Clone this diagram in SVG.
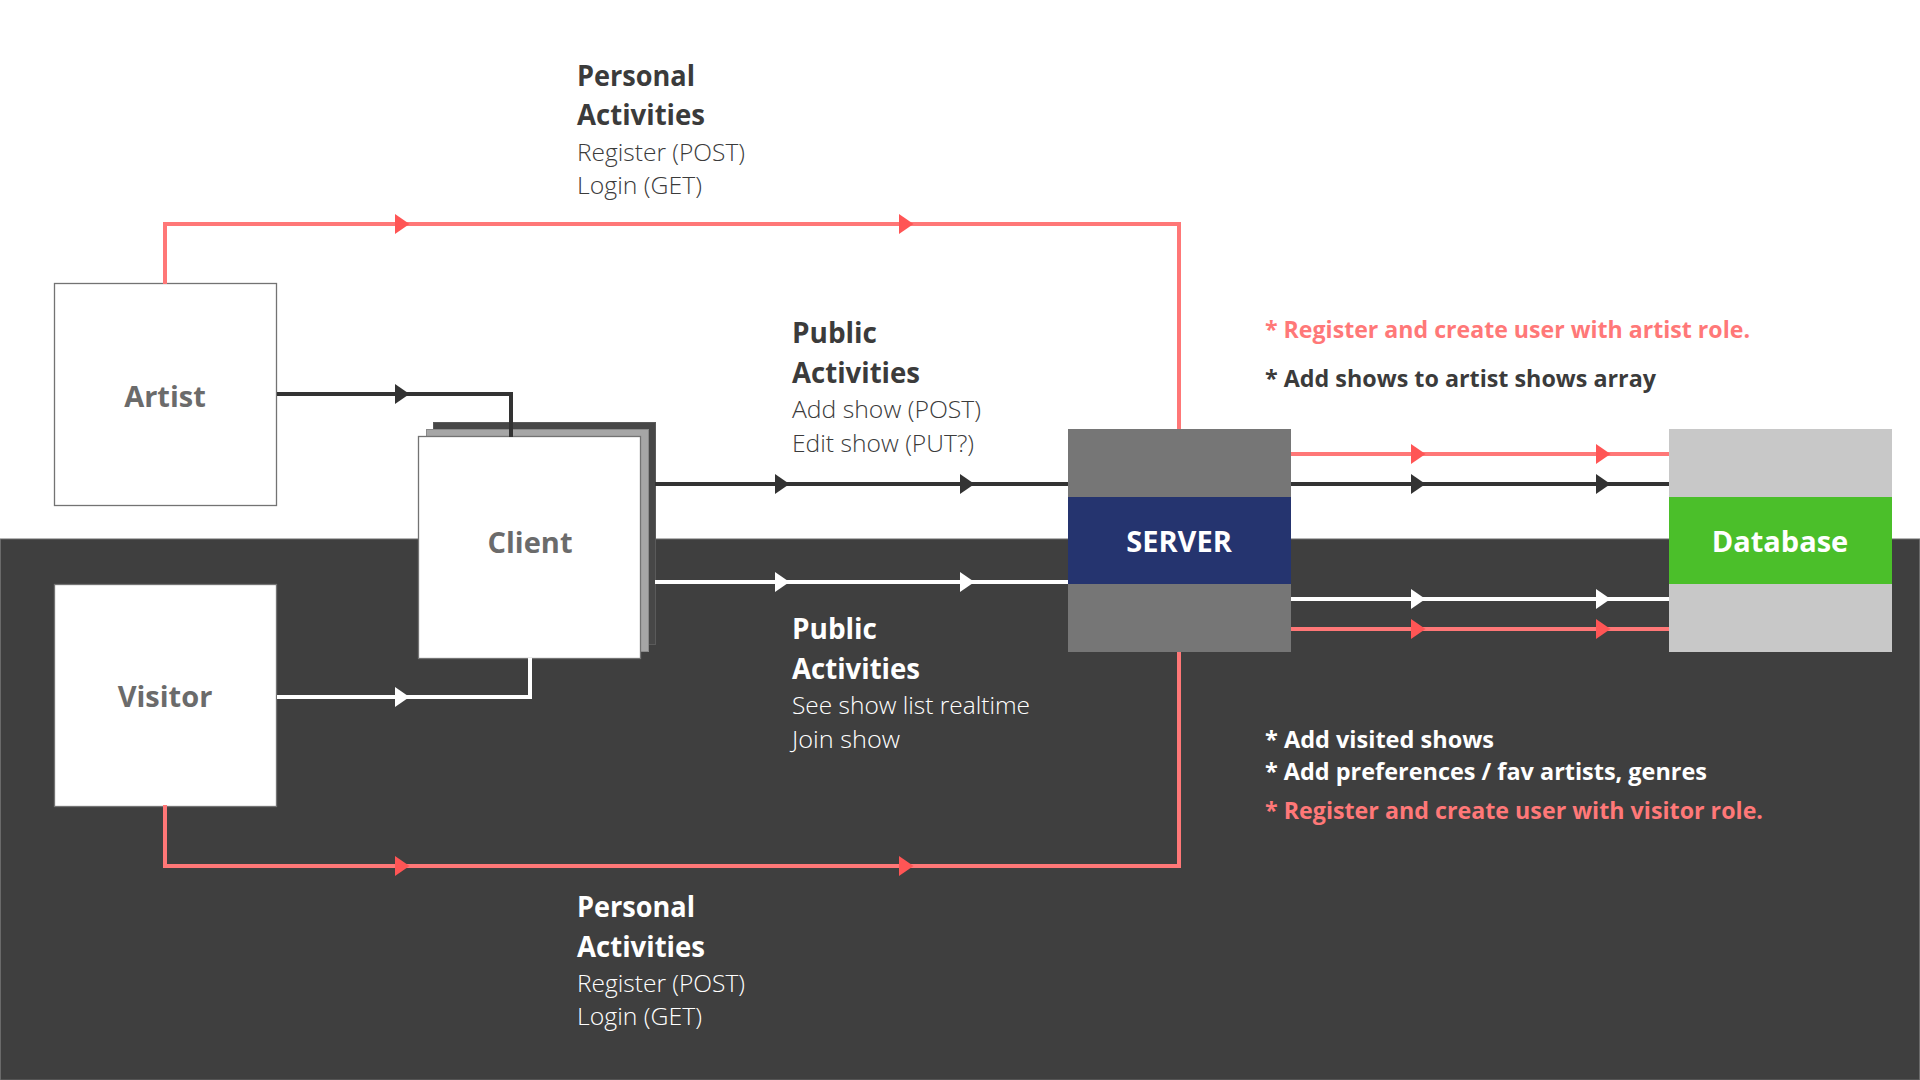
<svg xmlns="http://www.w3.org/2000/svg" width="1920" height="1080" viewBox="0 0 1920 1080">
  <defs>
    <style>
      .box { fill: #ffffff; stroke: #737373; stroke-width: 1.3; }
      .node-label { font-family: "Open Sans", "Liberation Sans", sans-serif; font-weight: 700; font-size: 29px; text-anchor: middle; }
      .grey-label { fill: #6b6b6b; }
      .white-label { fill: #ffffff; }
      .head { font-family: "Open Sans", "Liberation Sans", sans-serif; font-weight: 700; font-size: 28px; }
      .sub { font-family: "Open Sans", "Liberation Sans", sans-serif; font-weight: 300; font-size: 24px; }
      .note { font-family: "Open Sans", "Liberation Sans", sans-serif; font-weight: 700; font-size: 23px; }
      .ink-dark { fill: #3b3b3b; }
      .ink-white { fill: #ffffff; }
      .ink-red { fill: #ff7878; }
      .wire { fill: none; stroke-width: 4; stroke-linejoin: miter; }
      .wire-red { stroke: #ff7777; }
      .wire-dark { stroke: #333333; }
      .wire-white { stroke: #ffffff; }
      .head-red { fill: #ff5555; }
      .head-dark { fill: #333333; }
      .head-white { fill: #ffffff; }
    </style>
    <path id="arrow" d="M-7,-10 L7.5,0 L-7,10 Z"/>
  </defs>

  <!-- page background: light upper band, dark lower band -->
  <rect x="0" y="0" width="1920" height="1080" fill="#ffffff"/>
  <rect x="0.5" y="539" width="1919" height="541" fill="#3f3f3f" stroke="#6a6a6a" stroke-width="1"/>

  <!-- actors -->
  <g id="artist">
    <rect class="box" x="54.5" y="283.5" width="222" height="222"/>
    <text class="node-label grey-label" x="165" y="407">Artist</text>
  </g>

  <g id="visitor">
    <rect class="box" x="54.5" y="584.5" width="222" height="222"/>
    <text class="node-label grey-label" x="165" y="707">Visitor</text>
  </g>

  <!-- client drawn as a small stack of pages -->
  <g id="client">
    <rect x="433.5" y="422.5" width="222" height="222" fill="#474747" stroke="#5a5a5a" stroke-width="1"/>
    <rect x="426.5" y="429.5" width="222" height="222" fill="#a6a6a6" stroke="#8a8a8a" stroke-width="1"/>
    <rect class="box" x="418.5" y="436.5" width="222" height="222"/>
    <text class="node-label grey-label" x="530" y="553">Client</text>
  </g>

  <g id="server">
    <rect x="1068" y="429" width="223" height="223" fill="#767676"/>
    <rect x="1068" y="497" width="223" height="87" fill="#25346f"/>
    <text class="node-label white-label" x="1179" y="552">SERVER</text>
  </g>

  <g id="database">
    <rect x="1669" y="429" width="223" height="223" fill="#c8c8c8"/>
    <rect x="1669" y="497" width="223" height="87" fill="#4bbf2a"/>
    <text class="node-label white-label" x="1780" y="552">Database</text>
  </g>

  <!-- connectors -->
  <g id="connectors">
    <path class="wire wire-red" d="M165,284 V224 H1179 V429"/>
    <path class="wire wire-dark" d="M277,394 H511 V437"/>
    <path class="wire wire-white" d="M277,697 H530 V658"/>
    <path class="wire wire-dark" d="M655,484 H1068"/>
    <path class="wire wire-white" d="M655,582 H1068"/>
    <path class="wire wire-red" d="M165,805 V866 H1179 V652"/>
    <path class="wire wire-red" d="M1291,454 H1669"/>
    <path class="wire wire-dark" d="M1291,484 H1669"/>
    <path class="wire wire-white" d="M1291,599 H1669"/>
    <path class="wire wire-red" d="M1291,629 H1669"/>

    <use href="#arrow" class="head-red" transform="translate(402,224)"/>
    <use href="#arrow" class="head-red" transform="translate(906,224)"/>
    <use href="#arrow" class="head-dark" transform="translate(402,394)"/>
    <use href="#arrow" class="head-white" transform="translate(402,697)"/>
    <use href="#arrow" class="head-dark" transform="translate(782,484)"/>
    <use href="#arrow" class="head-dark" transform="translate(967,484)"/>
    <use href="#arrow" class="head-white" transform="translate(782,582)"/>
    <use href="#arrow" class="head-white" transform="translate(967,582)"/>
    <use href="#arrow" class="head-red" transform="translate(1418,454)"/>
    <use href="#arrow" class="head-red" transform="translate(1603,454)"/>
    <use href="#arrow" class="head-dark" transform="translate(1418,484)"/>
    <use href="#arrow" class="head-dark" transform="translate(1603,484)"/>
    <use href="#arrow" class="head-white" transform="translate(1418,599)"/>
    <use href="#arrow" class="head-white" transform="translate(1603,599)"/>
    <use href="#arrow" class="head-red" transform="translate(1418,629)"/>
    <use href="#arrow" class="head-red" transform="translate(1603,629)"/>
    <use href="#arrow" class="head-red" transform="translate(402,866)"/>
    <use href="#arrow" class="head-red" transform="translate(906,866)"/>
  </g>

  <!-- connector labels -->
  <g id="artist-personal-label">
    <text class="head ink-dark" x="577" y="86" textLength="118" lengthAdjust="spacingAndGlyphs">Personal</text>
    <text class="head ink-dark" x="577" y="125" textLength="128" lengthAdjust="spacingAndGlyphs">Activities</text>
    <text class="sub ink-dark" x="577" y="161" textLength="168" lengthAdjust="spacingAndGlyphs">Register (POST)</text>
    <text class="sub ink-dark" x="577" y="194" textLength="125" lengthAdjust="spacingAndGlyphs">Login (GET)</text>
  </g>

  <g id="artist-public-label">
    <text class="head ink-dark" x="792" y="343" textLength="85" lengthAdjust="spacingAndGlyphs">Public</text>
    <text class="head ink-dark" x="792" y="383" textLength="128" lengthAdjust="spacingAndGlyphs">Activities</text>
    <text class="sub ink-dark" x="792" y="418" textLength="189" lengthAdjust="spacingAndGlyphs">Add show (POST)</text>
    <text class="sub ink-dark" x="792" y="452" textLength="182" lengthAdjust="spacingAndGlyphs">Edit show (PUT?)</text>
  </g>

  <g id="visitor-public-label">
    <text class="head ink-white" x="792" y="639" textLength="85" lengthAdjust="spacingAndGlyphs">Public</text>
    <text class="head ink-white" x="792" y="679" textLength="128" lengthAdjust="spacingAndGlyphs">Activities</text>
    <text class="sub ink-white" x="792" y="714" textLength="238" lengthAdjust="spacingAndGlyphs">See show list realtime</text>
    <text class="sub ink-white" x="792" y="748" textLength="108" lengthAdjust="spacingAndGlyphs">Join show</text>
  </g>

  <g id="visitor-personal-label">
    <text class="head ink-white" x="577" y="917" textLength="118" lengthAdjust="spacingAndGlyphs">Personal</text>
    <text class="head ink-white" x="577" y="957" textLength="128" lengthAdjust="spacingAndGlyphs">Activities</text>
    <text class="sub ink-white" x="577" y="992" textLength="168" lengthAdjust="spacingAndGlyphs">Register (POST)</text>
    <text class="sub ink-white" x="577" y="1025" textLength="125" lengthAdjust="spacingAndGlyphs">Login (GET)</text>
  </g>

  <!-- database notes -->
  <g id="artist-notes">
    <text class="note ink-red" x="1265" y="338" textLength="485" lengthAdjust="spacingAndGlyphs">* Register and create user with artist role.</text>
    <text class="note ink-dark" x="1265" y="387" textLength="391" lengthAdjust="spacingAndGlyphs">* Add shows to artist shows array</text>
  </g>

  <g id="visitor-notes">
    <text class="note ink-white" x="1265" y="748" textLength="229" lengthAdjust="spacingAndGlyphs">* Add visited shows</text>
    <text class="note ink-white" x="1265" y="780" textLength="442" lengthAdjust="spacingAndGlyphs">* Add preferences / fav artists, genres</text>
    <text class="note ink-red" x="1265" y="819" textLength="498" lengthAdjust="spacingAndGlyphs">* Register and create user with visitor role.</text>
  </g>
</svg>
